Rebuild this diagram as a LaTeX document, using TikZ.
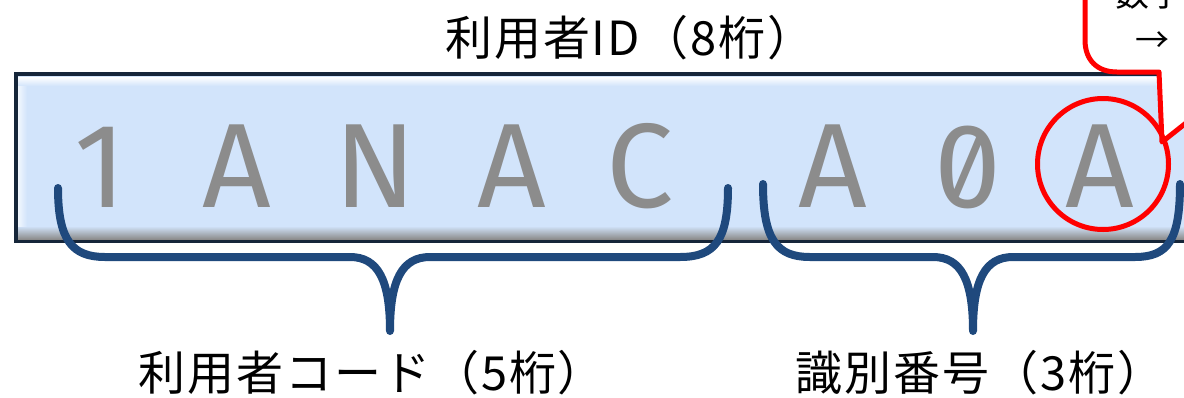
\documentclass[tikz,border=0pt]{standalone}
\usepackage{fontspec}
\newfontfamily\jp[LetterSpace=4]{Noto Sans CJK JP}
\newfontfamily\jpplain{Noto Sans CJK JP}
\newfontfamily\idfont[Numbers=SlashedZero]{Fira Sans}
\definecolor{boxdark}{HTML}{16263A}
\definecolor{boxblue}{HTML}{D2E4FB}
\definecolor{chargray}{HTML}{8C8C8C}
\definecolor{bracecol}{HTML}{1F497D}
\begin{document}
\begin{tikzpicture}[x=1pt,y=-1pt,
  idchar/.style={anchor=base,inner sep=0pt,text=chargray,font=\idfont\fontsize{120}{120}\selectfont},
  label/.style={inner sep=0pt,font=\jp\fontsize{47}{47}\selectfont},
  callouttext/.style={inner sep=0pt,font=\jpplain\fontsize{34}{34}\selectfont},
  brace/.style={draw=bracecol,line width=8pt,line cap=round,line join=round},
  ring/.style={draw=red,line width=5pt,circle,minimum size=131pt,inner sep=0pt}]
\useasboundingbox (0,0) rectangle (1184,397);
\begin{scope}
\clip (0,0) rectangle (1184,397);
% ID box
\fill[boxdark] (14,72) rectangle (1200,243);
\fill[boxblue] (18,76) rectangle (1200,239);
\shade[top color=white,bottom color=boxblue] (18,77) rectangle (1200,86);
\shade[top color=boxblue,bottom color=black!45] (18,226) rectangle (1200,239);
\shade[left color=white!70!boxblue,right color=boxblue] (18,86) rectangle (27,226);
% characters
\node[idchar] (c1) at (100,207) {1};
\node[idchar] (c2) at (237,207) {A};
\node[idchar] (c3) at (375,207) {N};
\node[idchar] (c4) at (512,207) {A};
\node[idchar] (c5) at (640,207) {C};
\node[idchar] (c6) at (833,207) {A};
\node[idchar] (c7) at (968,207) {0};
\node[idchar] (c8) at (1100,207) {A};
% braces
\coordinate (b1s) at (58,188);
\coordinate (b1t) at (390,331);
\coordinate (b1e) at (728,188);
\coordinate (b2s) at (763,184);
\coordinate (b2t) at (973,331);
\coordinate (b2e) at (1180,184);
\draw[brace] (b1s) .. controls (58,240) and (72,257) .. (105,257) -- (350,257)
  .. controls (378,257) and (390,280) .. (b1t)
  .. controls (390,280) and (402,257) .. (430,257) -- (680,257)
  .. controls (715,257) and (728,240) .. (b1e);
\draw[brace] (b2s) .. controls (763,240) and (777,257) .. (810,257) -- (933,257)
  .. controls (961,257) and (973,280) .. (b2t)
  .. controls (973,280) and (985,257) .. (1013,257) -- (1135,257)
  .. controls (1168,257) and (1180,240) .. (b2e);
% labels
\node[label] (idlabel) at (630,38) {利用者ID（8桁）};
\node[label] (userlabel) at (372,373) {利用者コード（5桁）};
\node[label] (numlabel) at (980,373) {識別番号（3桁）};
% callout
\coordinate (tip) at (1162,142);
\draw[red,line width=5pt,fill=white,line join=round] (1085,-60) -- (1085,40)
  .. controls (1085,60) and (1097,72) .. (1117,72) -- (1159,72) -- (tip)
  -- (1215,100) -- (1215,-60) -- cycle;
\node[callouttext,anchor=base west] (ct1) at (1115,6) {数字};
\node[callouttext,anchor=west] (ct2) at (1135,42) {→};
% ring
\node[ring] (ring) at (1103,164) {};
\end{scope}
\end{tikzpicture}
\end{document}
